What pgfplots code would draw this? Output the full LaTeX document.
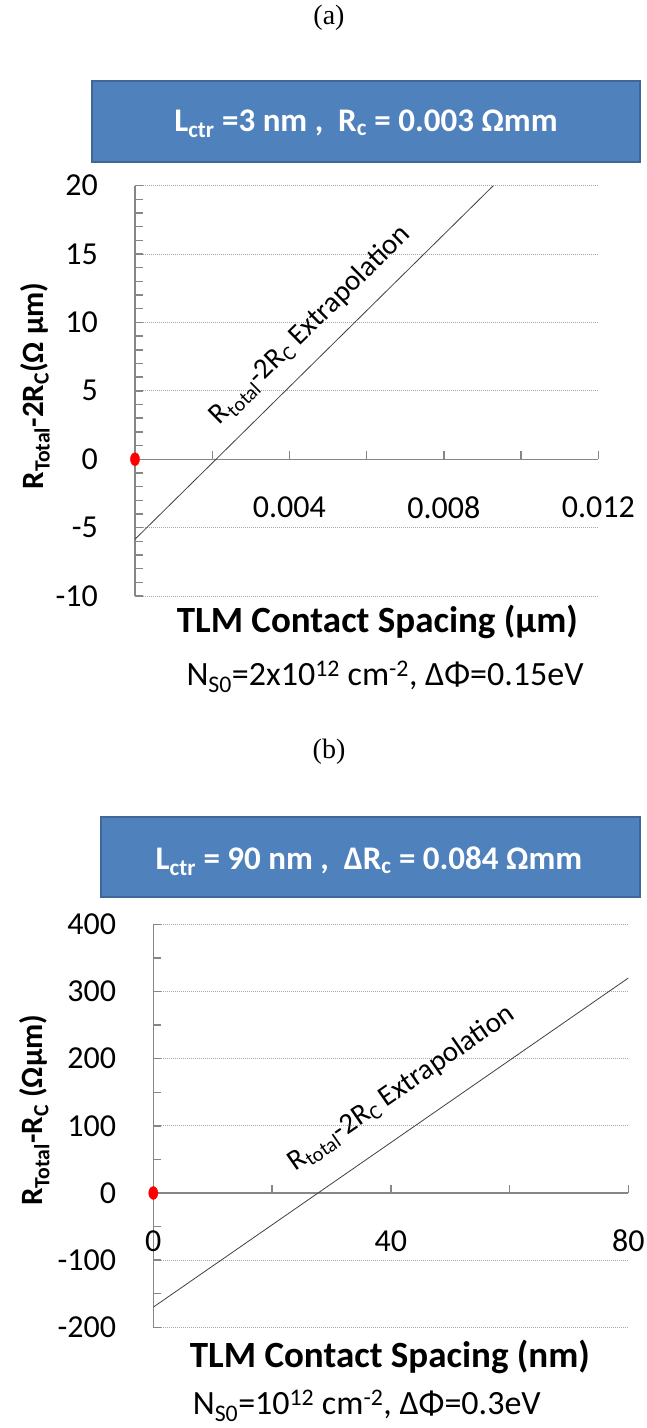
\documentclass[border=0pt]{standalone}
\usepackage{fontspec}
\setmainfont{Carlito}
\newfontfamily\timesfont{Liberation Serif}
\usepackage{pgfplots}
\pgfplotsset{compat=1.18}
\definecolor{boxblue}{HTML}{4F81BD}
\definecolor{boxborder}{HTML}{3F6797}
\definecolor{axgray}{HTML}{868686}
\pgfplotsset{
 tlm/.style={
  scale only axis,
  axis x line*=middle,
  axis y line*=left,
  clip=false,
  scaled x ticks=false, scaled y ticks=false,
  hide obscured x ticks=false,
  hide obscured y ticks=false,
  axis line style={draw=axgray, line width=1.4pt},
  tick style={draw=axgray, line width=1.4pt},
  tick align=center,
  xtick style={yshift=4pt},
  ytick style={xshift=4pt},
  major tick length=8pt, minor tick length=8pt,
  ymajorgrids,
  major grid style={draw=gray!70, line width=0.8pt, dash pattern=on 1pt off 1pt},
  ticklabel style={font=\fontsize{32}{38}\selectfont},
  /pgf/number format/assume math mode=true,
  yticklabel style={anchor=east, inner sep=0pt, xshift=-33pt},
  xticklabel style={anchor=center, inner sep=0pt, yshift=-44pt},
 }
}
\begin{document}
\begin{tikzpicture}
\useasboundingbox (0,0) rectangle (646pt,1428pt);
% titles
\node[font=\timesfont\fontsize{28}{32}\selectfont] at (329pt,1410pt) {(a)};
\node[font=\timesfont\fontsize{28}{32}\selectfont] at (329pt,676pt) {(b)};
% box a
\draw[fill=boxblue, draw=boxborder, line width=2pt] (92.3pt,1266.3pt) rectangle (640pt,1347.3pt);
\node[anchor=base, text=white, font=\fontsize{33}{38}\selectfont\bfseries] at (366pt,1296.3pt) {L\textsubscript{ctr} =3 nm ,~ R\textsubscript{c} = 0.003 Ωmm};
% box b
\draw[fill=boxblue, draw=boxborder, line width=2pt] (100.7pt,531.3pt) rectangle (640pt,611.3pt);
\node[anchor=base, text=white, font=\fontsize{33}{38}\selectfont\bfseries] at (369pt,558pt) {L\textsubscript{ctr} = 90 nm ,~ ΔR\textsubscript{c} = 0.084 Ωmm};

\begin{axis}[tlm, at={(135pt,832pt)}, anchor=south west,
  width=463.3pt, height=410.3pt,
  xmin=0, xmax=0.012, ymin=-10, ymax=20,
  xtick={0.004,0.008,0.012}, xticklabels={0.004,0.008,0.012},
  minor xtick={0.002,0.006,0.010},
  ytick={-10,-5,...,20}, minor ytick={-9,-8,...,19},
  every axis x label/.style={at={(axis description cs:0.523,0)}, anchor=base, yshift=-37pt, font=\fontsize{37}{42}\selectfont\bfseries},
  every axis y label/.style={at={(axis description cs:-0.216,0.512)}, anchor=center, rotate=90, font=\fontsize{31}{36}\selectfont\bfseries},
  xlabel={TLM Contact Spacing (µm)},
  ylabel={R\textsubscript{Total}-2R\textsubscript{C}(Ω µm)},
]
\addplot[color=black!75, line width=0.8pt] coordinates {(0,-5.85) (0.00928,20)};
\addplot[only marks, mark=*, color=red, mark size=4.6pt, mark options={yscale=1.4}] coordinates {(0,0)};
\node[rotate=44.6, anchor=base, font=\fontsize{29}{34}\selectfont] at (axis cs:0.00468,9.4) {R\textsubscript{total}-2R\textsubscript{C} Extrapolation};
\node[anchor=base west, font=\fontsize{34}{38}\selectfont] at (axis description cs:0,0) [xshift=48pt, yshift=-90pt] {N\textsubscript{S0}=2x10\textsuperscript{12} cm\textsuperscript{-2}, ΔΦ=0.15eV};
\end{axis}

\begin{axis}[tlm, at={(153.3pt,100.7pt)}, anchor=south west,
  width=475pt, height=403pt,
  xmin=0, xmax=80, ymin=-200, ymax=400,
  xtick={0,40,80}, minor xtick={20,60},
  ytick={-200,-100,...,400}, minor ytick={-150,-50,...,350},
  every axis x label/.style={at={(axis description cs:0.498,0)}, anchor=base, yshift=-40pt, font=\fontsize{37}{42}\selectfont\bfseries},
  every axis y label/.style={at={(axis description cs:-0.25,0.539)}, anchor=center, rotate=90, font=\fontsize{31}{36}\selectfont\bfseries},
  xlabel={TLM Contact Spacing (nm)},
  ylabel={R\textsubscript{Total}-R\textsubscript{C} (Ωµm)},
]
\addplot[color=black!75, line width=0.8pt] coordinates {(0,-170) (80,320)};
\addplot[only marks, mark=*, color=red, mark size=4.6pt, mark options={yscale=1.4}] coordinates {(0,0)};
\node[rotate=34.7, anchor=base, font=\fontsize{29}{34}\selectfont] at (axis cs:42.5,146.4) {R\textsubscript{total}-2R\textsubscript{C} Extrapolation};
\node[anchor=base west, font=\fontsize{34}{38}\selectfont] at (axis description cs:0,0) [xshift=36pt, yshift=-87pt] {N\textsubscript{S0}=10\textsuperscript{12} cm\textsuperscript{-2}, ΔΦ=0.3eV};
\end{axis}
\end{tikzpicture}
\end{document}
